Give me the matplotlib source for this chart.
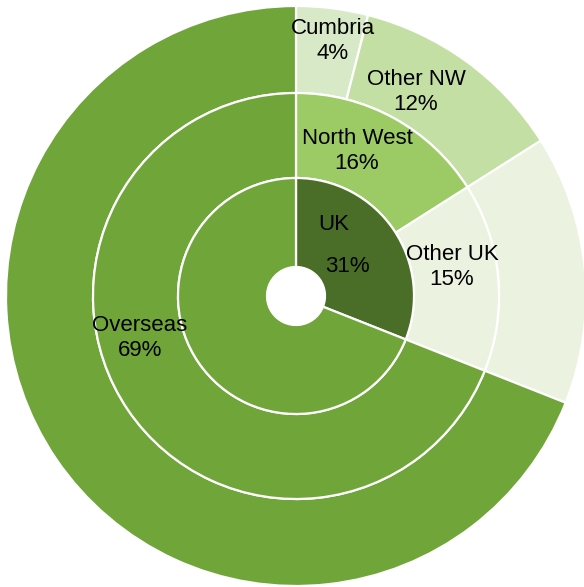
import matplotlib.pyplot as plt

# ring data (percent), going clockwise from 12 o'clock
inner_labels = ['UK', 'Overseas']
inner_values = [31, 69]

middle_labels = ['North West', 'Other UK', 'Overseas']
middle_values = [16, 15, 69]

outer_labels = ['Cumbria', 'Other NW', 'Other UK', 'Overseas']
outer_values = [4, 12, 15, 69]

inner_colors = ['#4a6e28', '#70a53a']
middle_colors = ['#9cca64', '#ebf2e0', '#70a53a']
outer_colors = ['#d8e9c8', '#c4dfa3', '#ebf2e0', '#70a53a']

W, H = 584, 587
cx, cy = 296, H - 296
r_hole, r1, r2, r3 = 29, 118, 203, 290

fig = plt.figure(figsize=(W / 100, H / 100), dpi=100)
ax = fig.add_axes([0, 0, 1, 1])

edge = dict(edgecolor='white', linewidth=1.6)
ax.pie(outer_values, radius=r3, center=(cx, cy), colors=outer_colors,
       startangle=90, counterclock=False, frame=True,
       wedgeprops=dict(width=r3 - r2, **edge))
ax.pie(middle_values, radius=r2, center=(cx, cy), colors=middle_colors,
       startangle=90, counterclock=False, frame=True,
       wedgeprops=dict(width=r2 - r1, **edge))
ax.pie(inner_values, radius=r1, center=(cx, cy), colors=inner_colors,
       startangle=90, counterclock=False, frame=True,
       wedgeprops=dict(width=r1 - r_hole, **edge))

ax.set_xlim(0, W)
ax.set_ylim(0, H)
ax.set_aspect('equal')
ax.axis('off')

# label placement in pixel coords (x, y from top)
font = dict(fontsize=16, family='Liberation Sans', ha='center', va='center',
            color='black', linespacing=1.3)
placed = [
    ('Cumbria', 4, (333, 41)),
    ('Other NW', 12, (416, 92)),
    ('North West', 16, (357, 151)),
    ('Other UK', 15, (452, 267)),
    ('Overseas', 69, (140, 338)),
]
for name, val, (px, py) in placed:
    ax.text(px, H - py, f'{name}\n{val}%', **font)

# UK label is split over two lines with a gap, as in the original
ax.text(334, H - 225, inner_labels[0], **font)
ax.text(347, H - 267, f'{inner_values[0]}%', **font)

fig.savefig('out.png', dpi=100)
